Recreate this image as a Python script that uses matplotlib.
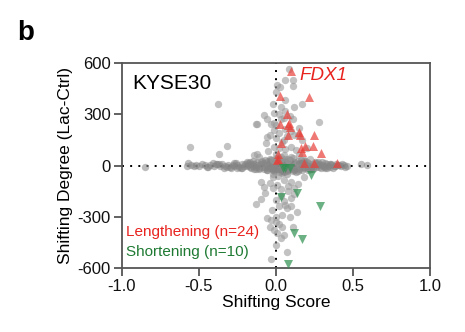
import matplotlib
matplotlib.use('Agg')
import matplotlib.pyplot as plt

plt.rcParams['font.family'] = ['Liberation Sans', 'DejaVu Sans']
plt.rcParams['axes.unicode_minus'] = False

# background genes (gray)
# horizontal band around zero
band_x = [-0.85, -0.58, -0.55, -0.53, -0.52, -0.46, -0.45, -0.43, -0.40, -0.38,
          -0.36, -0.35, -0.33, -0.31, -0.30, -0.28, -0.27, -0.25, -0.24, -0.22,
          -0.21, -0.20, -0.19, -0.18, -0.17, -0.16, -0.15, -0.14, -0.13, -0.12,
          -0.11, -0.10, -0.09, -0.08, -0.07, -0.06, -0.05, -0.045, -0.04, -0.035,
          -0.03, -0.025, -0.02, -0.015, -0.01, -0.005, 0.0, 0.005, 0.01, 0.015,
          0.02, 0.025, 0.03, 0.035, 0.04, 0.045, 0.05, 0.06, 0.07, 0.08,
          0.09, 0.10, 0.11, 0.12, 0.13, 0.14, 0.15, 0.16, 0.17, 0.18,
          0.19, 0.20, 0.21, 0.22, 0.23, 0.24, 0.26, 0.27, 0.28, 0.30,
          0.31, 0.33, 0.34, 0.36, 0.38, 0.40, 0.42, 0.44, 0.46, 0.55, 0.59,
          -0.41, -0.34, -0.26, -0.23, -0.17, -0.13, -0.09, -0.06, -0.03, -0.01,
          0.01, 0.03, 0.05, 0.07, 0.09, 0.12, 0.14, 0.17, 0.20, 0.23,
          0.25, 0.29, 0.32, 0.35, 0.39, -0.29, -0.19, -0.11, -0.04, 0.02,
          0.06, 0.11, 0.16, 0.21, 0.27, 0.33, -0.48, -0.15, -0.07, 0.0,
          0.04, 0.08, 0.13, 0.18, 0.24, 0.30, 0.37, 0.43, -0.57, 0.45,
          -0.44, -0.39, -0.32, -0.27, -0.22, -0.18, -0.14, -0.10, -0.08, -0.05,
          -0.02, 0.0, 0.02, 0.04, 0.06, 0.08, 0.10, 0.12, 0.15, 0.18,
          0.21, 0.24, 0.28, 0.31, 0.35, 0.38, 0.41, -0.50, -0.37, -0.25,
          -0.16, -0.12, -0.06, 0.01, 0.05, 0.09, 0.14, 0.19, 0.22, 0.26,
          0.32, 0.36, 0.03, -0.02, 0.07, 0.11]
band_y = [-8, 0, 5, -4, 3, 2, -6, 4, -3, 6,
          -2, 8, -5, 3, -7, 5, -2, 4, -8, 6,
          -3, 7, -5, 2, -9, 8, -4, 10, -6, 3,
          -12, 9, -7, 14, -10, 5, -15, 12, -8, 18,
          -14, 10, -20, 16, -12, 22, -18, 15, -22, 20,
          -16, 24, -20, 14, -25, 18, -12, 22, -18, 10,
          -20, 16, -10, 20, -14, 8, -18, 12, -8, 15,
          -10, 6, -12, 9, -6, 10, -8, 5, -6, 4,
          -5, 6, -3, 4, -4, 3, -5, 2, -2, 6, 4,
          14, -12, 15, -14, 18, -20, 24, -26, 30, -32,
          34, -30, 28, -34, 30, -28, 26, -24, 20, -18,
          18, -15, 14, -10, 8, -16, 20, -22, 38, -40,
          36, -34, 30, -28, 22, -14, 10, 28, 32, 45,
          -44, 40, -38, 30, -22, 18, -12, 8, 12, -10,
          -6, 9, -10, 12, -14, 16, -18, 20, -22, 26,
          -28, 2, 30, -30, 26, -24, 22, -20, 16, -14,
          12, -10, 8, -8, 6, -5, 4, -4, 10, -12,
          -16, 18, -24, 40, -38, 34, -30, 26, -20, 16,
          -12, 8, 50, -52, -48, 44]
# vertical spread around the origin
spread_x = [0.087, 0.056, 0.113, 0.113, 0.009, 0.026, 0.0, -0.017, 0.056, 0.117,
            0.17, -0.376, 0.035, 0.06, -0.01, 0.02, 0.09, -0.078, -0.056, -0.034,
            0.03, 0.11, 0.28, -0.12, -0.13, 0.0, 0.06, 0.10, -0.013, 0.02,
            -0.04, 0.07, 0.117, 0.0, -0.056, 0.052, -0.067, 0.04, 0.095, -0.316,
            -0.558, -0.01, 0.02, 0.06, 0.13, -0.05, -0.37, -0.12, -0.11, -0.14,
            0.0, 0.05, 0.10, 0.03, -0.02, 0.08, 0.20, 0.15, 0.22, 0.15,
            0.14, 0.17, -0.1, -0.039, -0.078, 0.009, 0.052, 0.095, 0.14, 0.18,
            -0.02, 0.03, 0.08, 0.12, -0.07, 0.0, 0.05, 0.10, -0.132, -0.10,
            0.02, 0.07, 0.139, 0.10, -0.023, 0.0, 0.04, -0.056, -0.034, -0.002,
            0.02, 0.042, -0.013, 0.009, 0.052, 0.031, -0.002, 0.074, -0.03, 0.11,
            0.09, -0.04, 0.06, 0.01, -0.02, 0.03, 0.12, 0.08, -0.01, 0.05]
spread_y = [568, 500, 500, 464, 470, 457, 430, 359, 382, 343,
            363, 359, 340, 320, 310, 300, 290, 294, 275, 246,
            270, 270, 252, 242, 245, 240, 215, 200, 207, 190,
            180, 170, 178, 160, 168, 148, 129, 140, 109, 115,
            107, 110, 100, 95, 90, 85, 66, 70, 50, 60,
            70, 60, 50, 40, 35, 30, 100, 60, 40, 220,
            180, 150, -96, -102, -125, -115, -86, -96, -110, -70,
            -130, -140, -150, -165, -160, -200, -210, -190, -227, -197,
            -240, -250, -272, -235, -262, -300, -290, -310, -320, -330,
            -340, -359, -379, -398, -408, -427, -467, -509, -548, -360,
            -300, -360, -230, -60, -70, -180, -130, -120, 250, 280]

# lengthening genes (red, up triangles)
up_x = [0.10, 0.026, 0.214, 0.074, 0.026, 0.079, 0.09, 0.15, 0.155, 0.079,
        0.247, 0.03, 0.187, 0.24, 0.172, 0.29, 0.013, 0.009, 0.185, 0.245,
        0.393, 0.011, 0.085, 0.165]
up_y = [552, 407, 404, 304, 242, 235, 225, 197, 178, 178,
        178, 133, 115, 115, 80, 76, 66, 33, 12, 12,
        14, 41, 250, 100]
# shortening genes (green, down triangles)
down_x = [0.044, 0.09, 0.225, 0.134, 0.035, 0.286, 0.117, 0.167, 0.078, 0.06]
down_y = [-12, -12, -55, -160, -187, -238, -394, -433, -576, -15]

fig = plt.figure(figsize=(4.65, 3.32), dpi=100)
ax = fig.add_axes([0.262, 0.193, 0.663, 0.617])

ax.axhline(0, color='black', lw=1.4, ls=(0, (1, 3.2)), zorder=1)
ax.axvline(0, color='black', lw=1.4, ls=(0, (1, 3.2)), zorder=1)

ax.scatter(band_x, band_y, s=28, color='#858585', alpha=0.55, lw=0, zorder=2)
ax.scatter(spread_x, spread_y, s=28, color='#9a9a9a', alpha=0.6, lw=0, zorder=2)
ax.scatter(up_x, up_y, s=42, marker='^', color='#e8403a', alpha=0.7, lw=0, zorder=3)
ax.scatter(down_x, down_y, s=42, marker='v', color='#2e9150', alpha=0.7, lw=0, zorder=3)

ax.set_xlim(-1, 1)
ax.set_ylim(-600, 600)
ax.set_xticks([-1, -0.5, 0, 0.5, 1])
ax.set_xticklabels(['-1.0', '-0.5', '0.0', '0.5', '1.0'])
ax.set_yticks([-600, -300, 0, 300, 600])
for s in ax.spines.values():
    s.set_color('#555555')
    s.set_linewidth(1.3)
ax.tick_params(direction='out', length=6, width=1.3, color='#555555',
               labelsize=12, labelcolor='#111111', pad=2)

ax.set_xlabel('Shifting Score', fontsize=12.5, labelpad=1)
ax.set_ylabel('Shifting Degree (Lac-Ctrl)', fontsize=12.5, labelpad=3)

ax.text(0.035, 0.9, 'KYSE30', transform=ax.transAxes, fontsize=15,
        va='center', ha='left')
ax.text(0.154, 529, 'FDX1', color='#e8231e', fontsize=13.5, style='italic',
        va='center', ha='left')
ax.text(-0.975, -389, 'Lengthening (n=24)', color='#e8231e', fontsize=11,
        va='center', ha='left')
ax.text(-0.975, -506, 'Shortening (n=10)', color='#1e7a32', fontsize=11,
        va='center', ha='left')

fig.text(17 / 465, 1 - 33 / 332, 'b', fontsize=20, fontweight='bold',
         va='center', ha='left')

fig.savefig('out.png', dpi=100)
